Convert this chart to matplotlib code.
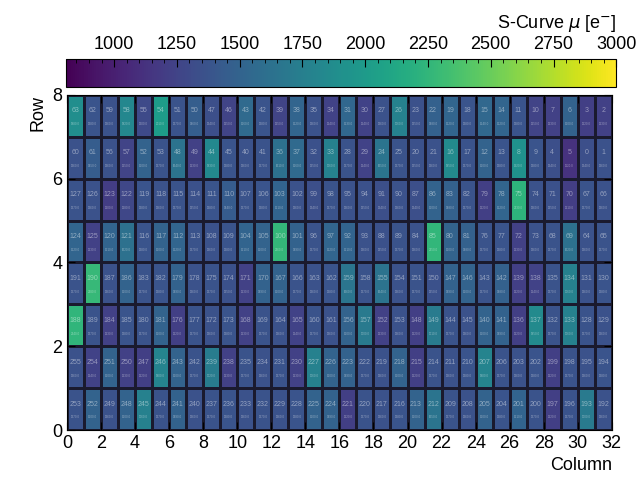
import numpy as np
import matplotlib.pyplot as plt
from matplotlib.ticker import MultipleLocator

plt.rcParams['font.family'] = ['Liberation Sans', 'DejaVu Sans']

# pixel numbers shown in each cell, rows listed top (row 7) to bottom (row 0)
pixel_ids = [
    [63, 62, 59, 58, 55, 54, 51, 50, 47, 46, 43, 42, 39, 38, 35, 34, 31, 30, 27, 26, 23, 22, 19, 18, 15, 14, 11, 10, 7, 6, 3, 2],
    [60, 61, 56, 57, 52, 53, 48, 49, 44, 45, 40, 41, 36, 37, 32, 33, 28, 29, 24, 25, 20, 21, 16, 17, 12, 13, 8, 9, 4, 5, 0, 1],
    [127, 126, 123, 122, 119, 118, 115, 114, 111, 110, 107, 106, 103, 102, 99, 98, 95, 94, 91, 90, 87, 86, 83, 82, 79, 78, 75, 74, 71, 70, 67, 66],
    [124, 125, 120, 121, 116, 117, 112, 113, 108, 109, 104, 105, 100, 101, 96, 97, 92, 93, 88, 89, 84, 85, 80, 81, 76, 77, 72, 73, 68, 69, 64, 65],
    [191, 190, 187, 186, 183, 182, 179, 178, 175, 174, 171, 170, 167, 166, 163, 162, 159, 158, 155, 154, 151, 150, 147, 146, 143, 142, 139, 138, 135, 134, 131, 130],
    [188, 189, 184, 185, 180, 181, 176, 177, 172, 173, 168, 169, 164, 165, 160, 161, 156, 157, 152, 153, 148, 149, 144, 145, 140, 141, 136, 137, 132, 133, 128, 129],
    [255, 254, 251, 250, 247, 246, 243, 242, 239, 238, 235, 234, 231, 230, 227, 226, 223, 222, 219, 218, 215, 214, 211, 210, 207, 206, 203, 202, 199, 198, 195, 194],
    [253, 252, 249, 248, 245, 244, 241, 240, 237, 236, 233, 232, 229, 228, 225, 224, 221, 220, 217, 216, 213, 212, 209, 208, 205, 204, 201, 200, 197, 196, 193, 192],
]

# S-curve mean per pixel [e-], rows listed top (row 7) to bottom (row 0)
mu_row7 = [1880, 1380, 1360, 1820, 1300, 2010, 1370, 1460, 1340, 1250, 1560, 1380, 1250, 1520, 1360, 1240, 1530, 1240, 1360, 1760, 1350, 1480, 1520, 1380, 1540, 1520, 1380, 1250, 1230, 1500, 1220, 1230]
mu_row6 = [1360, 1450, 1360, 1250, 1500, 1370, 1640, 1230, 1830, 1380, 1360, 1370, 1610, 1560, 1350, 1760, 1370, 1240, 1650, 1370, 1350, 1360, 1850, 1370, 1500, 1380, 1920, 1380, 1340, 1120, 1340, 1360]
mu_row5 = [1370, 1360, 1200, 1280, 1380, 1360, 1370, 1350, 1380, 1440, 1370, 1380, 1510, 1360, 1340, 1370, 1360, 1350, 1340, 1360, 1340, 1500, 1480, 1370, 1220, 1520, 2230, 1360, 1350, 1210, 1370, 1360]
mu_row4 = [1520, 1230, 1510, 1620, 1380, 1500, 1520, 1370, 1360, 1380, 1510, 1500, 2260, 1490, 1370, 1520, 1510, 1360, 1350, 1370, 1360, 2250, 1500, 1480, 1370, 1380, 1230, 1360, 1370, 1620, 1360, 1370]
mu_row3 = [1370, 2280, 1360, 1500, 1370, 1380, 1490, 1360, 1370, 1350, 1230, 1490, 1500, 1370, 1360, 1380, 1660, 1370, 1640, 1360, 1370, 1350, 1490, 1500, 1370, 1480, 1220, 1240, 1370, 1760, 1360, 1380]
mu_row2 = [2240, 1370, 1230, 1380, 1370, 1500, 1220, 1370, 1360, 1380, 1230, 1370, 1360, 1240, 1370, 1360, 1500, 1700, 1230, 1360, 1220, 1710, 1370, 1360, 1500, 1490, 1220, 1850, 1370, 1760, 1370, 1360]
mu_row1 = [1360, 1240, 1500, 1230, 1220, 1800, 1500, 1370, 1720, 1230, 1370, 1360, 1370, 1230, 1760, 1500, 1490, 1370, 1360, 1500, 1220, 1370, 1360, 1380, 1800, 1370, 1360, 1380, 1220, 1370, 1360, 1380]
mu_row0 = [1370, 1500, 1360, 1500, 1760, 1370, 1490, 1360, 1370, 1380, 1360, 1370, 1360, 1380, 1500, 1490, 1220, 1370, 1360, 1380, 1500, 1650, 1370, 1360, 1500, 1380, 1510, 1370, 1220, 1370, 1700, 1360]

mu = np.array([mu_row7, mu_row6, mu_row5, mu_row4, mu_row3, mu_row2, mu_row1, mu_row0])[::-1]
ids = np.array(pixel_ids)[::-1]

vmin, vmax = 810, 3000

fig = plt.figure(figsize=(6.38, 4.92), dpi=100)
ax = fig.add_axes([0.105, 0.126, 0.854, 0.681])
cax = fig.add_axes([0.104, 0.823, 0.862, 0.057])

mesh = ax.pcolormesh(np.arange(33), np.arange(9), mu, cmap='viridis', vmin=vmin, vmax=vmax,
                     edgecolors='#1a1a2e', linewidth=0.8)

for r in range(8):
    for c in range(32):
        ax.text(c + 0.5, r + 0.62, str(ids[r, c]), ha='center', va='center', fontsize=5,
                color='white', alpha=0.45)
        ax.text(c + 0.5, r + 0.3, f'{mu[r, c]:.1f}', ha='center', va='center', fontsize=2.2,
                color='white', alpha=0.45)

ax.set_xlim(0, 32)
ax.set_ylim(0, 8)
ax.xaxis.set_major_locator(MultipleLocator(2))
ax.yaxis.set_major_locator(MultipleLocator(2))
ax.tick_params(axis='both', direction='in', labelsize=13, length=6, top=True, right=True)
ax.set_xlabel('Column', loc='right', fontsize=13)
ax.set_ylabel('Row', loc='top', fontsize=13)

cb = fig.colorbar(mesh, cax=cax, orientation='horizontal', ticklocation='top')
cb.set_ticks([1000, 1250, 1500, 1750, 2000, 2250, 2500, 2750, 3000])
cb.ax.xaxis.set_minor_locator(MultipleLocator(50))
cb.ax.tick_params(which='major', direction='in', length=6, labelsize=13, pad=4)
cb.ax.tick_params(which='minor', direction='in', length=3)
cb.ax.tick_params(axis='x', which='both', bottom=False)
cb.set_label(r'S-Curve $\mu$ [e$^{-}$]', fontsize=13, loc='right', labelpad=6)
cb.outline.set_linewidth(0.8)

fig.savefig('out.png', dpi=100)
